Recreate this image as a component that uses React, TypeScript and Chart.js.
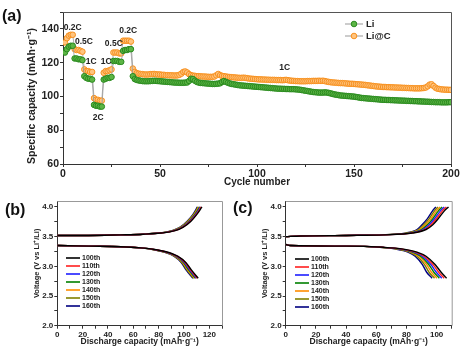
import React, { useEffect, useRef } from "react";
import { Chart, registerables } from "chart.js";
Chart.register(...registerables);

const FONT = '"Liberation Sans", Arial, Helvetica, sans-serif';

// ---------- (a) cycling data ----------
const cycleNumbers = Array.from({ length: 200 }, (_, i) => i + 1);

const liCapacity = [
  126, 128, 129.5, 130, 130, 122.5, 122.5, 122, 122, 121.5,
  112, 111, 110.5, 110.5, 110, 95, 94.5, 94.5, 94, 94,
  110, 110.5, 111, 111, 111.5, 121, 121, 121, 120.5, 120.5,
  127, 127.5, 127.5, 128, 128, 112, 110.3, 109.8, 109.5, 109.3,
  109.1, 109, 109, 109, 109.1, 109.2, 109.3, 109.2, 109.1, 109,
  108.9, 108.8, 108.7, 108.6, 108.5, 108.4, 108.3, 108.2, 108.2, 108.1,
  108.1, 108.1, 108.2, 108.3, 109.2, 110.5, 110.3, 109.3, 108.6, 108.2,
  108, 107.9, 107.8, 107.7, 107.6, 107.5, 107.4, 107.4, 107.5, 107.6,
  107.8, 108.6, 109.1, 108.6, 108.1, 107.7, 107.4, 107.2, 107, 106.8,
  106.6, 106.5, 106.4, 106.3, 106.2, 106.1, 106, 105.9, 105.8, 105.7,
  105.6, 105.5, 105.4, 105.3, 105.2, 105.1, 105, 104.9, 104.8, 104.7,
  104.6, 104.6, 104.5, 104.5, 104.4, 104.4, 104.3, 104.3, 104.3, 104.2,
  104.1, 104, 103.8, 103.6, 103.4, 103.2, 103, 102.8, 102.6, 102.5,
  102.4, 102.3, 102.3, 102.3, 102.4, 102.3, 102.1, 101.8, 101.5, 101.2,
  101, 100.8, 100.6, 100.5, 100.4, 100.3, 100.2, 100.1, 100, 99.9,
  99.7, 99.5, 99.3, 99.1, 99, 98.9, 98.8, 98.7, 98.6, 98.5,
  98.4, 98.3, 98.2, 98.1, 98, 98, 97.9, 97.9, 97.8, 97.8,
  97.7, 97.7, 97.6, 97.6, 97.5, 97.5, 97.4, 97.4, 97.3, 97.3,
  97.2, 97.2, 97.1, 97.1, 97, 97, 96.9, 96.9, 96.8, 96.7,
  96.7, 96.6, 96.6, 96.6, 96.5, 96.5, 96.5, 96.5, 96.6, 96.6,
];

const liCCapacity = [
  132, 134.5, 136, 136.5, 136.5, 128, 127.5, 127.5, 127, 126.5,
  116, 115, 115, 114.5, 114.5, 99, 98, 98, 97.5, 97.5,
  114, 115, 115, 115.5, 116, 126, 126, 126, 125.5, 125.5,
  133, 133, 133, 133, 132.5, 116.5, 114.5, 113.8, 113.5, 113.3,
  113.2, 113, 113, 113, 113.2, 113.2, 113.3, 113.1, 113, 113,
  112.8, 112.8, 112.6, 112.6, 112.5, 112.5, 112.4, 112.4, 112.5, 112.8,
  113.5, 114.5, 114.8, 114.2, 113.2, 112.6, 112.3, 112.2, 112, 112,
  111.9, 111.8, 111.8, 111.7, 111.6, 111.6, 111.6, 111.8, 112.5, 113.3,
  112.6, 112.2, 112, 111.8, 111.6, 111.5, 111.4, 111.3, 111.2, 111.1,
  111, 111, 111.1, 111, 110.8, 110.6, 110.5, 110.4, 110.3, 110.2,
  110.1, 110.1, 110, 110, 109.9, 109.9, 109.8, 109.8, 109.8, 109.7,
  109.7, 109.7, 109.6, 109.7, 109.8, 109.6, 109.4, 109.3, 109.2, 109.1,
  109.1, 109, 109, 109, 109, 109.1, 109.1, 109.1, 109.2, 109.2,
  109.2, 109.3, 109.2, 109.3, 109.1, 108.8, 108.6, 108.4, 108.3, 108.2,
  108.1, 108, 107.9, 107.9, 107.8, 107.7, 107.6, 107.5, 107.5, 107.4,
  107.3, 107.2, 107.1, 107, 106.9, 106.8, 106.6, 106.5, 106.3, 106.2,
  106, 105.9, 105.8, 105.7, 105.6, 105.6, 105.5, 105.5, 105.4, 105.4,
  105.3, 105.3, 105.2, 105.2, 105.1, 105.1, 105, 105, 104.9, 104.9,
  104.8, 104.8, 104.8, 104.8, 104.9, 105, 105.3, 106, 107, 107.2,
  106.2, 105.2, 104.6, 104.4, 104.2, 104.1, 104, 104, 103.9, 103.9,
];

const rateLabels = ["0.2C", "0.5C", "1C", "2C", "1C", "0.5C", "0.2C", "1C"];
const rateLabelCycle = [5, 10.8, 14.5, 18.1, 22.3, 26.2, 33.6, 114.3];
const rateLabelCapacity = [140.5, 132.4, 120.7, 87.7, 120.7, 131, 139.2, 117];

// ---------- (b)/(c) voltage profiles ----------
const cycleLabels = ["100th", "110th", "120th", "130th", "140th", "150th", "160th"];
const cycleColors = ["#000000", "#ff2020", "#1f1fff", "#008000", "#ff8c00", "#808000", "#000080"];

// (b) Li
const bChargeV = [3.52, 3.52, 3.53, 3.54, 3.56, 3.60, 3.66, 3.76, 3.87, 4.00];
const bChargeCap = [
  [0, 20, 50, 68, 82, 93, 99.5, 105.5, 110, 114.2],
  [0, 20, 50, 67.8, 81.7, 92.6, 99, 105, 109.5, 113.6],
  [0, 20, 50, 67.6, 81.4, 92.2, 98.6, 104.5, 109, 113],
  [0, 20, 50, 67.4, 81.1, 91.8, 98.2, 104, 108.5, 112.4],
  [0, 20, 50, 67.2, 80.8, 91.4, 97.8, 103.5, 108, 111.8],
  [0, 20, 50, 67, 80.5, 91, 97.4, 103, 107.5, 111.2],
  [0, 20, 50, 66.8, 80.2, 90.6, 97, 102.5, 107, 110.6],
];
const bDischargeV = [3.35, 3.34, 3.33, 3.31, 3.28, 3.25, 3.17, 3.06, 2.94, 2.80];
const bDischargeCap = [
  [0, 25, 50, 66, 78, 85, 95, 101.6, 105.8, 111.2],
  [0, 25, 50, 65.8, 77.7, 84.6, 94.5, 101, 105.1, 110.5],
  [0, 25, 50, 65.6, 77.4, 84.2, 94, 100.4, 104.4, 109.8],
  [0, 25, 50, 65.4, 77.1, 83.8, 93.5, 99.8, 103.7, 109.1],
  [0, 25, 50, 65.2, 76.8, 83.4, 93, 99.2, 103, 108.4],
  [0, 25, 50, 65, 76.5, 83, 92.5, 98.6, 102.3, 107.7],
  [0, 25, 50, 64.8, 76.2, 82.6, 92, 98, 101.6, 107],
];

// (c) Li@C
const cChargeV = [3.50, 3.51, 3.52, 3.53, 3.56, 3.62, 3.70, 3.80, 3.93, 4.00];
const cChargeCap = [
  [0, 10, 40, 65, 84, 93, 97.5, 101, 105, 107.9],
  [0, 10, 40, 64.5, 83.2, 92, 96.3, 99.8, 103.7, 106.5],
  [0, 10, 40, 64, 82.4, 91, 95.1, 98.6, 102.4, 105.1],
  [0, 10, 40, 63.5, 81.6, 90, 93.9, 97.4, 101.1, 103.7],
  [0, 10, 40, 63, 80.8, 89, 92.7, 96.2, 99.8, 102.3],
  [0, 10, 40, 62.5, 80, 88, 91.5, 95, 98.5, 100.9],
  [0, 10, 40, 62, 79.2, 87, 90.3, 93.8, 97.2, 99.5],
];
const cDischargeV = [3.37, 3.35, 3.34, 3.32, 3.29, 3.24, 3.17, 3.03, 2.90, 2.80];
const cDischargeCap = [
  [0, 3, 40, 65, 78, 87, 93, 99, 103, 106.6],
  [0, 3, 40, 64.5, 77.2, 86, 91.8, 97.6, 101.4, 105],
  [0, 3, 40, 64, 76.4, 85, 90.6, 96.2, 99.8, 103.4],
  [0, 3, 40, 63.5, 75.6, 84, 89.4, 94.8, 98.2, 101.8],
  [0, 3, 40, 63, 74.8, 83, 88.2, 93.4, 96.6, 100.2],
  [0, 3, 40, 62.5, 74, 82, 87, 92, 95, 98.6],
  [0, 3, 40, 62, 73.2, 81, 85.8, 90.6, 93.4, 97],
];

// ---------- helpers ----------
const font = (size: number, weight: any = "bold") => ({ family: FONT, size, weight });

function axis(fontSize: number, extra: any) {
  return {
    type: "linear",
    border: { display: true, color: "#333", width: 1 },
    grid: { display: true, drawOnChartArea: false, drawTicks: true, tickLength: 3, color: "#333", tickWidth: 1 },
    ...extra,
    ticks: {
      font: font(fontSize),
      color: "#222",
      autoSkip: false,
      maxRotation: 0,
      minRotation: 0,
      includeBounds: false,
      padding: 1,
      ...(extra.ticks || {}),
    },
  };
}

const framePlugin = (color: string) => ({
  id: "frame",
  afterDraw(chart: any) {
    const { ctx, chartArea: a } = chart;
    ctx.save();
    ctx.strokeStyle = color;
    ctx.lineWidth = 1;
    ctx.beginPath();
    ctx.moveTo(a.left, a.top + 0.5);
    ctx.lineTo(a.right + 0.5, a.top + 0.5);
    ctx.lineTo(a.right + 0.5, a.bottom);
    ctx.stroke();
    ctx.restore();
  },
});

const yTitleAPlugin = {
  id: "yTitleA",
  afterDraw(chart: any) {
    const { ctx } = chart;
    ctx.save();
    ctx.translate(32, 96);
    ctx.rotate(-Math.PI / 2);
    ctx.fillStyle = "#222";
    ctx.font = `bold 10.5px ${FONT}`;
    ctx.textAlign = "center";
    ctx.textBaseline = "middle";
    ctx.fillText("Specific capacity (mAh·g⁻¹)", 0, 0);
    ctx.restore();
  },
};

const rateLabelPlugin = {
  id: "rateLabels",
  afterDatasetsDraw(chart: any) {
    const { ctx, scales } = chart;
    ctx.save();
    ctx.fillStyle = "#222";
    ctx.font = `bold 8.5px ${FONT}`;
    ctx.textAlign = "center";
    ctx.textBaseline = "middle";
    rateLabels.forEach((t, i) => {
      ctx.fillText(t, scales.x.getPixelForValue(rateLabelCycle[i]), scales.y.getPixelForValue(rateLabelCapacity[i]));
    });
    ctx.restore();
  },
};

const legendAPlugin = {
  id: "legendA",
  afterDraw(chart: any) {
    const { ctx } = chart;
    const items = [
      { t: "Li", fill: "#5cb545", stroke: "#2a8a1f", y: 24 },
      { t: "Li@C", fill: "#ffc47f", stroke: "#f7901e", y: 36 },
    ];
    ctx.save();
    items.forEach((it) => {
      ctx.strokeStyle = "#999";
      ctx.lineWidth = 1;
      ctx.beginPath();
      ctx.moveTo(345, it.y);
      ctx.lineTo(363, it.y);
      ctx.stroke();
      ctx.beginPath();
      ctx.arc(354, it.y, 2.8, 0, Math.PI * 2);
      ctx.fillStyle = it.fill;
      ctx.fill();
      ctx.strokeStyle = it.stroke;
      ctx.stroke();
      ctx.fillStyle = "#222";
      ctx.font = `bold 9.5px ${FONT}`;
      ctx.textAlign = "left";
      ctx.textBaseline = "middle";
      ctx.fillText(it.t, 366, it.y + 0.5);
    });
    ctx.restore();
  },
};

const cycleLegendPlugin = (x0: number, y0: number) => ({
  id: "cycleLegend",
  afterDraw(chart: any) {
    const { ctx } = chart;
    ctx.save();
    cycleLabels.forEach((t, i) => {
      const y = y0 + i * 8;
      ctx.strokeStyle = cycleColors[i];
      ctx.lineWidth = 1.6;
      ctx.beginPath();
      ctx.moveTo(x0, y);
      ctx.lineTo(x0 + 14, y);
      ctx.stroke();
      ctx.fillStyle = "#222";
      ctx.font = `bold 7px ${FONT}`;
      ctx.textAlign = "left";
      ctx.textBaseline = "middle";
      ctx.fillText(t, x0 + 16, y + 0.5);
    });
    ctx.restore();
  },
});

function profileDatasets(chgV: number[], chgCap: number[][], disV: number[], disCap: number[][]) {
  const ds: any[] = [];
  cycleLabels.forEach((lab, i) => {
    const common = {
      borderColor: cycleColors[i],
      borderWidth: 1.4,
      pointRadius: 0,
      cubicInterpolationMode: "monotone",
      fill: false,
    };
    ds.push({ label: lab + " charge", data: chgCap[i].map((x, k) => ({ x, y: chgV[k] })), ...common });
    ds.push({ label: lab + " discharge", data: disCap[i].map((x, k) => ({ x, y: disV[k] })), ...common });
  });
  return ds;
}

function profileConfig(
  datasets: any[],
  xMax: number,
  pad: { left: number; right: number },
  yWidth: number,
  xHeight: number,
  legendPos: [number, number]
) {
  return {
    type: "line",
    data: { datasets },
    options: {
      animation: false,
      responsive: false,
      layout: { padding: { left: pad.left, right: pad.right, top: 11, bottom: 0 } },
      plugins: { legend: { display: false }, tooltip: { enabled: false } },
      scales: {
        x: axis(8, {
          min: 0,
          max: xMax,
          ticks: { stepSize: 10, callback: (v: number) => (Math.round(v) % 20 === 0 ? String(Math.round(v)) : "") },
          title: {
            display: true,
            text: "Discharge capacity (mAh·g⁻¹)",
            font: font(8.5),
            color: "#222",
            padding: { top: 0, bottom: 4 },
          },
          afterFit: (s: any) => {
            s.height = xHeight;
          },
        }),
        y: axis(8, {
          min: 2.0,
          max: 4.1,
          ticks: {
            stepSize: 0.25,
            callback: (v: number) => (Math.abs(v * 2 - Math.round(v * 2)) < 1e-6 ? v.toFixed(1) : ""),
          },
          title: {
            display: true,
            text: "Voltage (V vs Li⁺/Li)",
            font: font(7.5),
            color: "#222",
            padding: { top: 4, bottom: 0 },
          },
          afterFit: (s: any) => {
            s.width = yWidth;
          },
        }),
      },
    },
    plugins: [framePlugin("#999"), cycleLegendPlugin(legendPos[0], legendPos[1])],
  };
}

export default function App() {
  const refA = useRef<HTMLCanvasElement>(null);
  const refB = useRef<HTMLCanvasElement>(null);
  const refC = useRef<HTMLCanvasElement>(null);

  useEffect(() => {
    const charts: Chart[] = [];

    const pointCommon = { borderColor: "#9a9a9a", borderWidth: 0.8, pointRadius: 2.8, pointBorderWidth: 1 };
    charts.push(
      new Chart(refA.current!, {
        type: "line",
        data: {
          datasets: [
            {
              label: "Li",
              data: cycleNumbers.map((c, i) => ({ x: c, y: liCapacity[i] })),
              pointBackgroundColor: "#5cb545",
              pointBorderColor: "#2a8a1f",
              ...pointCommon,
            },
            {
              label: "Li@C",
              data: cycleNumbers.map((c, i) => ({ x: c, y: liCCapacity[i] })),
              pointBackgroundColor: "#ffc47f",
              pointBorderColor: "#f7901e",
              ...pointCommon,
            },
          ],
        },
        options: {
          animation: false,
          responsive: false,
          layout: { padding: { left: 22, right: 14, top: 12, bottom: 0 } },
          plugins: { legend: { display: false }, tooltip: { enabled: false } },
          scales: {
            x: axis(10.5, {
              min: 0,
              max: 200,
              ticks: { stepSize: 25, callback: (v: number) => (v % 50 === 0 ? String(v) : "") },
              title: {
                display: true,
                text: "Cycle number",
                font: font(10),
                color: "#222",
                padding: { top: 0, bottom: 2 },
              },
              afterFit: (s: any) => {
                s.height = 26;
              },
            }),
            y: axis(10.5, {
              min: 60,
              max: 150,
              ticks: { stepSize: 10, callback: (v: number) => ((v - 60) % 20 === 0 ? String(v) : "") },
              title: { display: false },
              afterFit: (s: any) => {
                s.width = 41;
              },
            }),
          },
        } as any,
        plugins: [framePlugin("#555"), rateLabelPlugin, legendAPlugin, yTitleAPlugin],
      } as any)
    );

    charts.push(
      new Chart(
        refB.current!,
        profileConfig(
          profileDatasets(bChargeV, bChargeCap, bDischargeV, bDischargeCap),
          130,
          { left: 28, right: 10 },
          29.3,
          25.3,
          [66, 68]
        ) as any
      )
    );
    charts.push(
      new Chart(
        refC.current!,
        profileConfig(
          profileDatasets(cChargeV, cChargeCap, cDischargeV, cDischargeCap),
          110,
          { left: 24, right: 13.3 },
          29.7,
          25.3,
          [63, 69]
        ) as any
      )
    );

    return () => charts.forEach((c) => c.destroy());
  }, []);

  const panelLabel: React.CSSProperties = {
    position: "absolute",
    fontFamily: FONT,
    fontWeight: "bold",
    fontSize: 16,
    lineHeight: "16px",
    color: "#111",
  };

  return (
    <div style={{ position: "fixed", left: 0, top: 0, width: 465, height: 351, background: "#fff", overflow: "hidden" }}>
      <canvas ref={refA} width={465} height={190} style={{ position: "absolute", left: 0, top: 0 }} />
      <canvas ref={refB} width={232} height={161} style={{ position: "absolute", left: 0, top: 190 }} />
      <canvas ref={refC} width={233} height={161} style={{ position: "absolute", left: 232, top: 190 }} />
      <div style={{ ...panelLabel, left: 2, top: 8 }}>(a)</div>
      <div style={{ ...panelLabel, left: 5, top: 202 }}>(b)</div>
      <div style={{ ...panelLabel, left: 233, top: 200 }}>(c)</div>
    </div>
  );
}
